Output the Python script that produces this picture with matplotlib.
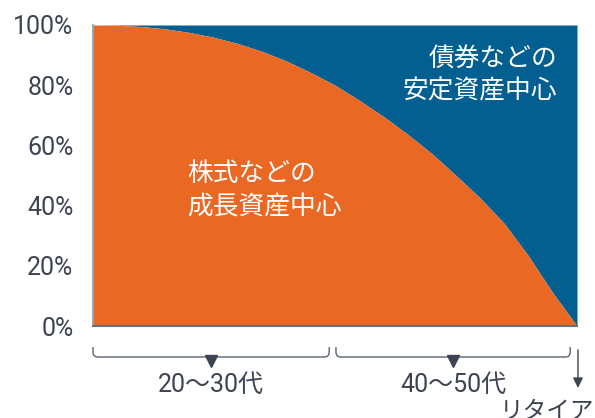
import matplotlib.pyplot as plt
import matplotlib.transforms as mtransforms
from matplotlib.path import Path
from matplotlib.patches import PathPatch

# データ
progress = [0, 5, 10, 15, 20, 25, 30, 35, 40, 45, 50, 55, 60, 65, 70, 75, 80, 85, 90, 95, 100]
equity_share = [100, 99.9, 99.5, 98.7, 97.5, 95.9, 93.8, 91.2, 88.0, 84.2, 80.0, 75.0,
                69.6, 63.7, 57.3, 50.0, 42.5, 34.0, 23.2, 11.0, 0]
y_ticks = [0, 20, 40, 60, 80, 100]
y_tick_labels = ['0%', '20%', '40%', '60%', '80%', '100%']
age_groups = ['20〜30代', '40〜50代']
age_spans = [(0, 48.8), (50.2, 98.6)]
retire_label = 'リタイア'
equity_label = '株式などの\n成長資産中心'
bond_label = '債券などの\n安定資産中心'

ORANGE = '#E86824'
BLUE = '#045F91'
TEXT = '#3D4451'
LINE = '#5A6270'

plt.rcParams['font.family'] = ['Roboto', 'Noto Sans CJK JP', 'DejaVu Sans']

fig = plt.figure(figsize=(5.95, 4.18), dpi=100)
ax = fig.add_axes([93 / 595, 1 - 326 / 418, 484 / 595, 301 / 418])

ax.fill_between(progress, equity_share, 100, color=BLUE, lw=0)
ax.fill_between(progress, 0, equity_share, color=ORANGE, lw=0)

ax.set_xlim(0, 100)
ax.set_ylim(0, 100)
ax.set_xticks([])
ax.set_yticks(y_ticks)
ax.set_yticklabels(y_tick_labels, fontsize=18, color=TEXT)
ax.tick_params(axis='y', length=0, pad=14)
for s in ['top', 'right']:
    ax.spines[s].set_visible(False)
ax.spines['left'].set_color('#8E9AA8')
ax.spines['left'].set_linewidth(1.2)
ax.spines['bottom'].set_color('#6E6E6E')
ax.spines['bottom'].set_linewidth(1.5)

jp = ['Noto Sans CJK JP', 'DejaVu Sans']
ax.text(19.4, 45.0, equity_label, color='white', fontsize=18.5, family=jp,
        ha='left', va='center', linespacing=1.35)
ax.text(95.9, 83.4, bond_label, color='white', fontsize=18.5, family=jp,
        ha='right', va='center', linespacing=1.35, multialignment='right')

# 年代の括弧
trans = mtransforms.blended_transform_factory(ax.transData, ax.transAxes)
y_top, y_line = -0.070, -0.103
r, dx = 0.017, 1.0
for (x0, x1), label in zip(age_spans, age_groups):
    verts = [(x0, y_top), (x0, y_line + r), (x0, y_line), (x0 + dx, y_line),
             (x1 - dx, y_line), (x1, y_line), (x1, y_line + r), (x1, y_top)]
    codes = [Path.MOVETO, Path.LINETO, Path.CURVE3, Path.CURVE3,
             Path.LINETO, Path.CURVE3, Path.CURVE3, Path.LINETO]
    ax.add_patch(PathPatch(Path(verts, codes), transform=trans, fill=False,
                           edgecolor=LINE, lw=1.0, clip_on=False))
    xc = (x0 + x1) / 2
    ax.plot([xc], [y_line - 0.012], marker='v', markersize=8, color=TEXT,
            transform=trans, clip_on=False)
    ax.text(xc, -0.196, label, transform=trans, ha='center', va='center',
            fontsize=18, color=TEXT)

# リタイア矢印
ax.annotate('', xy=(100.2, -0.215), xytext=(100.2, -0.070),
            xycoords=trans, textcoords=trans,
            arrowprops=dict(arrowstyle='-|>,head_width=0.3,head_length=0.6',
                            color=TEXT, lw=1.0))
ax.text(93.8, -0.246, retire_label, transform=trans, ha='center', va='top',
        fontsize=17, color=TEXT, family=jp)

fig.savefig('out.png', dpi=100)
